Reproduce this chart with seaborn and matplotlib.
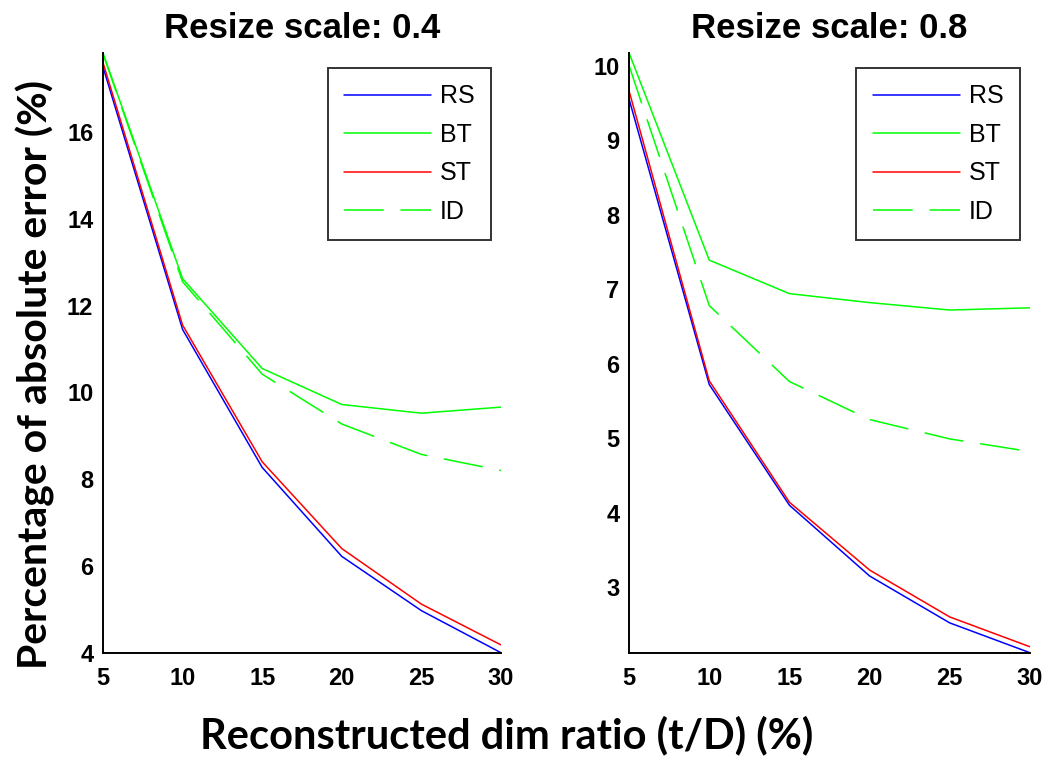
import matplotlib
matplotlib.use("Agg")
import matplotlib.pyplot as plt
import seaborn as sns
import pandas as pd

# ---- data ----
dim_ratio = [5, 10, 15, 20, 25, 30]
methods = ["RS", "BT", "ST", "ID"]

rs_04 = [17.50, 11.45, 8.27, 6.22, 4.97, 4.00]
bt_04 = [17.82, 12.62, 10.55, 9.72, 9.52, 9.66]
st_04 = [17.60, 11.55, 8.40, 6.40, 5.12, 4.18]
id_04 = [17.80, 12.55, 10.42, 9.27, 8.57, 8.20]

rs_08 = [9.55, 5.72, 4.10, 3.15, 2.52, 2.12]
bt_08 = [10.17, 7.39, 6.94, 6.82, 6.72, 6.75]
st_08 = [9.66, 5.77, 4.14, 3.23, 2.60, 2.20]
id_08 = [10.00, 6.78, 5.76, 5.25, 4.99, 4.82]

panel_titles = ["Resize scale: 0.4", "Resize scale: 0.8"]
xticks = [5, 10, 15, 20, 25, 30]
yticks_04 = [4, 6, 8, 10, 12, 14, 16]
yticks_08 = [3, 4, 5, 6, 7, 8, 9, 10]
xlabel = "Reconstructed dim ratio (t/D) (%)"
ylabel = "Percentage of absolute error (%)"

colors = {"RS": "#0000ff", "BT": "#00ff00", "ST": "#ff0000", "ID": "#00ff00"}
styles = {"RS": "-", "BT": "-", "ST": "-", "ID": (0, (26, 11))}

sns.set_style("white")
plt.rcParams["font.family"] = ["Liberation Sans", "DejaVu Sans"]
plt.rcParams["text.color"] = "black"
plt.rcParams["xtick.color"] = "black"
plt.rcParams["ytick.color"] = "black"
plt.rcParams["axes.labelcolor"] = "black"

fig = plt.figure(figsize=(10.52, 7.61), dpi=100)
ax_l = fig.add_axes([0.0979, 0.1423, 0.3783, 0.788])
ax_r = fig.add_axes([0.598, 0.1423, 0.381, 0.788])

panels = [
    (ax_l, {"RS": rs_04, "BT": bt_04, "ST": st_04, "ID": id_04}, yticks_04, panel_titles[0]),
    (ax_r, {"RS": rs_08, "BT": bt_08, "ST": st_08, "ID": id_08}, yticks_08, panel_titles[1]),
]

for ax, series, yticks, title in panels:
    for m in methods:
        df = pd.DataFrame({"ratio": dim_ratio, "err": series[m]})
        sns.lineplot(data=df, x="ratio", y="err", ax=ax, color=colors[m],
                     linestyle=styles[m], linewidth=1.1, label=m, legend=False)
    allv = [v for m in methods for v in series[m]]
    ax.set_xlim(min(dim_ratio), max(dim_ratio))
    ax.set_ylim(min(allv), max(allv))
    ax.set_xticks(xticks)
    ax.set_yticks(yticks)
    ax.set_xlabel("")
    ax.set_ylabel("")
    for s in ["top", "right"]:
        ax.spines[s].set_visible(False)
    for s in ["left", "bottom"]:
        ax.spines[s].set_color("black")
        ax.spines[s].set_linewidth(1.4)
    ax.tick_params(direction="in", length=4.5, width=1, color="black",
                   labelsize=17, labelcolor="black")
    ax.tick_params(axis="x", pad=10)
    ax.tick_params(axis="y", pad=7)
    for lab in ax.get_xticklabels() + ax.get_yticklabels():
        lab.set_fontweight("heavy")
    ax.set_title(title, fontsize=25, fontweight="bold", pad=11, color="black")
    leg = ax.legend(handles=ax.get_lines(), labels=methods, loc="upper right",
                    bbox_to_anchor=(0.975, 0.975), fontsize=18, frameon=True,
                    fancybox=False, edgecolor="black", handlelength=3.5,
                    handletextpad=0.35, borderpad=0.65, labelspacing=0.58,
                    borderaxespad=0)
    leg.get_frame().set_linewidth(1.4)
    for t in leg.get_texts():
        t.set_color("black")

fig.text(0.482, 0.034, xlabel, ha="center", va="center", fontsize=30,
         fontweight="bold", family=["Lato", "DejaVu Sans"], color="black")
fig.text(0.034, 0.508, ylabel, ha="center", va="center", rotation=90,
         fontsize=29.5, fontweight="bold", family=["Lato", "DejaVu Sans"],
         color="black")

fig.savefig("out.png", dpi=100)
